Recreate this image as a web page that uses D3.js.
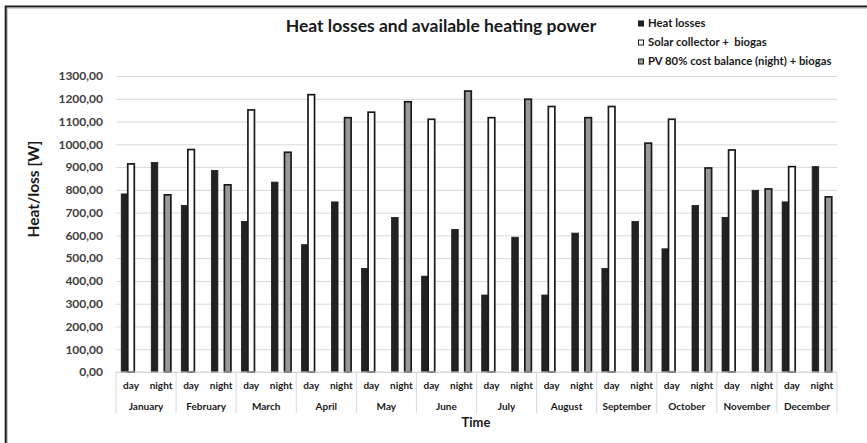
<!DOCTYPE html>
<html lang="en">
<head>
<meta charset="UTF-8">
<title>Heat losses and available heating power</title>
<script src="https://d3js.org/d3.v7.min.js"></script>
<style>
  html, body { margin: 0; padding: 0; background: #fff; }
  svg { display: block; font-family: "Lato", "Open Sans", sans-serif; }
  text { white-space: pre; }
</style>
</head>
<body>
<div id="chart"></div>
<script>
// -- data --
const months = ["January", "February", "March", "April", "May", "June",
  "July", "August", "September", "October", "November", "December"];
const periods = ["day", "night"];
const yTicks = [0, 100, 200, 300, 400, 500, 600, 700, 800, 900, 1000, 1100, 1200, 1300];

// one value per month and period: Jan day, Jan night, Feb day, ...
const heatLosses = [782, 920, 731, 885, 661, 834, 559, 747, 455, 679, 421, 626,
  338, 592, 338, 610, 455, 661, 541, 731, 679, 798, 747, 902];
const solarBiogas = [914, null, 977, null, 1151, null, 1218, null, 1141, null, 1110, null,
  1117, null, 1166, null, 1166, null, 1110, null, 975, null, 902, null];
const pvBiogas = [null, 778, null, 822, null, 965, null, 1117, null, 1187, null, 1234,
  null, 1198, null, 1117, null, 1005, null, 896, null, 804, null, 769];

const seriesNames = ["Heat losses", "Solar collector +  biogas", "PV 80% cost balance (night) + biogas"];
const seriesValues = [heatLosses, solarBiogas, pvBiogas];
const seriesFill = ["#222222", "#ffffff", "#999999"];

// -- size --
const width = 867, height = 443;
const plot = { left: 116, right: 837, top: 76, bottom: 372 };

const svg = d3.select("#chart").append("svg")
  .attr("width", width)
  .attr("height", height);

svg.append("rect").attr("width", width).attr("height", height).attr("fill", "#fff");

// frame (only top and left are visible in the picture)
svg.append("path")
  .attr("d", `M5.7,${height} V6.5 H${width}`)
  .attr("fill", "none").attr("stroke", "#1a1a1a").attr("stroke-width", 2);
svg.append("path")
  .attr("d", `M7.5,${height} V8.3 H${width}`)
  .attr("fill", "none").attr("stroke", "#c8c8c8").attr("stroke-width", 1);

// -- scales --
const cats = [];
months.forEach(m => periods.forEach(p => cats.push(m + "|" + p)));

const x0 = d3.scaleBand().domain(cats).range([plot.left, plot.right]);
const x1 = d3.scaleBand().domain(d3.range(3)).range([0, x0.bandwidth()])
  .paddingInner(0).paddingOuter(0.8);
const xm = d3.scaleBand().domain(months).range([plot.left, plot.right]);
const y = d3.scaleLinear().domain([0, 1300]).range([plot.bottom, plot.top]);

// -- grid + y axis --
const fmt = v => d3.format(".2f")(v).replace(".", ",");
const yAxis = svg.append("g")
  .attr("transform", `translate(${plot.left},0)`)
  .call(d3.axisLeft(y).tickValues(yTicks).tickFormat(fmt)
    .tickSize(-(plot.right - plot.left)).tickPadding(13));
yAxis.select(".domain").remove();
yAxis.selectAll(".tick line").attr("stroke", "#d9d9d9");
yAxis.selectAll(".tick text")
  .attr("fill", "#404040").attr("font-size", 12).attr("font-weight", "bold")
  .attr("font-family", "Lato, sans-serif");

// -- bars --
seriesValues.forEach((vals, s) => {
  svg.append("g").selectAll("rect")
    .data(cats.map((c, i) => ({ c: c, v: vals[i] })).filter(d => d.v != null))
    .join("rect")
    .attr("x", d => x0(d.c) + x1(s))
    .attr("y", d => y(d.v))
    .attr("width", x1.bandwidth())
    .attr("height", d => y(0) - y(d.v))
    .attr("fill", seriesFill[s])
    .attr("stroke", "#1a1a1a")
    .attr("stroke-width", s === 0 ? 0.8 : 1.7);
});

// -- x axis: day / night + months --
svg.append("line")
  .attr("x1", plot.left).attr("x2", plot.right)
  .attr("y1", y(0)).attr("y2", y(0))
  .attr("stroke", "#d9d9d9");

svg.append("g").selectAll("line")
  .data(months.concat(["end"]))
  .join("line")
  .attr("x1", d => d === "end" ? plot.right : xm(d))
  .attr("x2", d => d === "end" ? plot.right : xm(d))
  .attr("y1", y(0)).attr("y2", 413)
  .attr("stroke", "#d9d9d9");

svg.append("g").selectAll("text")
  .data(cats)
  .join("text")
  .attr("x", d => x0(d) + x0.bandwidth() / 2)
  .attr("y", 389)
  .attr("text-anchor", "middle")
  .attr("font-size", 10).attr("font-weight", "bold").attr("fill", "#1a1a1a")
  .text(d => d.split("|")[1]);

svg.append("g").selectAll("text")
  .data(months)
  .join("text")
  .attr("x", d => xm(d) + xm.bandwidth() / 2)
  .attr("y", 410)
  .attr("text-anchor", "middle")
  .attr("font-size", 10).attr("font-weight", "bold").attr("fill", "#1a1a1a")
  .text(d => d);

// -- titles --
svg.append("text")
  .attr("x", 441).attr("y", 32)
  .attr("text-anchor", "middle")
  .attr("font-size", 17.5).attr("font-weight", "bold").attr("fill", "#1a1a1a")
  .text("Heat losses and available heating power");

svg.append("text")
  .attr("x", 476).attr("y", 427)
  .attr("text-anchor", "middle")
  .attr("font-size", 13).attr("font-weight", "bold").attr("fill", "#1a1a1a")
  .text("Time");

svg.append("text")
  .attr("transform", "translate(39,189) rotate(-90)")
  .attr("text-anchor", "middle")
  .attr("font-size", 15.5).attr("font-weight", "bold").attr("fill", "#1a1a1a")
  .text("Heat/loss [W]");

// -- legend --
const legend = svg.append("g").selectAll("g")
  .data(seriesNames)
  .join("g")
  .attr("transform", (d, i) => `translate(638,${23.5 + i * 19})`);
legend.append("rect")
  .attr("x", 0.5).attr("y", -2.5).attr("width", 5).attr("height", 5)
  .attr("fill", (d, i) => seriesFill[i])
  .attr("stroke", "#1a1a1a").attr("stroke-width", 1);
legend.append("text")
  .attr("x", 10).attr("y", 3.8)
  .attr("font-size", 11.3).attr("font-weight", "bold").attr("fill", "#1a1a1a")
  .text(d => d);
</script>
</body>
</html>
